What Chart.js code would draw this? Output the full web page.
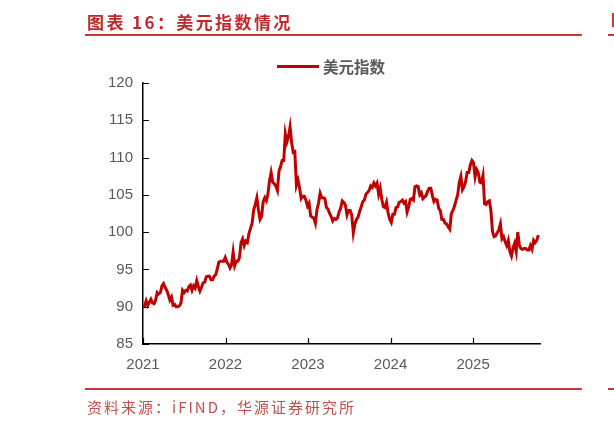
<!DOCTYPE html>
<html lang="zh">
<head>
  <meta charset="UTF-8">
  <title>美元指数情况</title>
  <script src="https://cdn.jsdelivr.net/npm/chart.js"></script>
  <style>
    body { margin: 0; width: 614px; height: 428px; background: #fff; position: relative; overflow: hidden; }
    #chartBox { position: absolute; left: 0; top: 0; width: 614px; height: 428px; }
    .title { position: absolute; left: 87px; top: 9px; color: #c0282d; font: bold 17px "Noto Sans CJK SC", sans-serif; letter-spacing: 2.4px; }
    .rule { position: absolute; height: 2px; background: #c8383c; }
    .source { position: absolute; left: 87px; top: 396px; color: #c0504d; font: 15px "Noto Sans CJK SC", serif; letter-spacing: 2px; }
    .legend { position: absolute; left: 277px; top: 55px; display: flex; align-items: center; font: bold 15.5px "Noto Sans CJK SC", sans-serif; color: #595959; }
    .legend span { display: inline-block; width: 42px; height: 3px; background: #c00000; margin-right: 4px; }
  </style>
</head>
<body>
  <div id="chartBox"><canvas id="dxyChart" width="614" height="428"></canvas></div>
  <div class="title">图表 16：美元指数情况</div>
  <div class="rule" style="left:85px; top:34px; width:497px;"></div>
  <div class="rule" style="left:608px; top:34px; width:6px;"></div>
  <div class="rule" style="left:612px; top:13px; width:2px; height:14px;"></div>
  <div class="legend"><span></span>美元指数</div>
  <div class="rule" style="left:85px; top:388px; width:497px;"></div>
  <div class="rule" style="left:608px; top:388px; width:6px;"></div>
  <div class="source">资料来源：iFIND，华源证券研究所</div>

  <script>
    // weekly readings of the dollar index, first week of 2021 onwards
    const startYear = 2021;
    const dxy2021 = [89.9, 90.1, 90.8, 90.2, 90.6, 91.0, 90.5, 90.4, 90.9, 91.9, 91.7, 91.9, 92.8, 93.1,
      92.6, 92.2, 91.6, 90.9, 91.3, 90.2, 90.3, 90.0, 90.0, 90.1, 90.5, 92.2, 91.9,
      92.2, 92.1, 92.7, 92.9, 92.2, 92.8, 92.5, 93.5, 92.7, 92.1, 92.6, 93.2, 93.3, 94.0,
      94.1, 94.1, 93.6, 93.6, 94.1, 94.3, 95.1, 96.0, 96.1, 96.1, 96.1, 96.6, 96.0];
    const dxy2022 = [95.7, 95.2, 95.6, 97.3, 95.5, 96.1, 96.1, 96.6, 98.6, 99.1, 98.2, 98.8,
      98.6, 99.8, 100.5, 101.2, 103.0, 103.7, 104.6, 103.0, 101.7, 102.1, 104.1, 104.6, 104.2, 105.1,
      106.9, 108.0, 106.7, 106.5, 106.2, 105.6, 108.2, 108.8, 109.6, 109.6, 113.2, 112.1,
      112.8, 114.1, 112.0, 110.7, 110.8, 106.3, 107.0, 106.0, 104.5, 104.8, 104.8, 104.3, 103.5, 103.9];
    const dxy2023 = [102.2, 102.0, 101.9, 101.2, 103.0, 103.9, 105.2, 104.6, 104.6, 104.5, 103.3, 103.1, 102.5,
      102.1, 101.5, 101.8, 101.7, 101.9, 102.7, 103.2, 104.2, 104.0, 103.6, 102.3, 102.9, 102.9,
      102.3, 99.9, 101.1, 101.7, 102.0, 102.8, 103.4, 104.1, 104.3, 105.1, 105.3, 105.6, 106.2,
      106.0, 106.6, 106.2, 106.6, 105.1, 105.9, 104.4, 103.4, 103.3, 104.0, 102.6, 101.7, 101.3];
    const dxy2024 = [102.4, 102.4, 103.3, 103.4, 104.0, 104.1, 104.3, 103.9, 104.1, 102.7, 103.4, 104.4, 104.5,
      104.3, 106.1, 106.2, 106.1, 105.0, 105.3, 104.5, 104.7, 104.9, 105.5, 105.9, 105.9,
      104.9, 104.1, 104.4, 104.3, 103.2, 102.9, 101.7, 101.7, 101.2, 101.1, 100.7, 100.4,
      102.5, 102.9, 103.5, 104.3, 105.0, 106.7, 107.5, 105.7, 106.1, 106.8, 108.0, 108.0];
    const dxy2025 = [109.0, 109.6, 109.3, 107.4, 108.4, 108.0, 106.7, 106.6, 107.6, 103.8, 103.7, 104.1, 104.2,
      102.9, 100.1, 99.4, 99.5, 99.9, 100.3, 101.1, 99.1, 99.4, 98.7, 98.2, 98.9, 97.4,
      96.8, 97.9, 98.5, 97.4, 100.0, 98.2, 97.8, 97.7, 97.8, 97.8, 97.6, 97.6, 98.2,
      97.7, 98.9, 98.6, 98.9, 99.6];
    const yearTicks = [2021, 2022, 2023, 2024, 2025];
    const yMin = 85, yMax = 120, yStep = 5;

    const dxyWeekly = [].concat(dxy2021, dxy2022, dxy2023, dxy2024, dxy2025);
    const points = dxyWeekly.map((v, i) => ({ x: startYear + i * 7 / 365.25, y: v }));
    const xEnd = points[points.length - 1].x + 0.02;

    // small tick marks pointing into the plot
    const innerTicks = {
      id: 'innerTicks',
      afterDraw(chart) {
        const ctx = chart.ctx;
        const xs = chart.scales.x, ys = chart.scales.y;
        ctx.save();
        ctx.strokeStyle = '#000';
        ctx.lineWidth = 1.2;
        ctx.beginPath();
        ys.ticks.forEach(t => {
          const y = Math.round(ys.getPixelForValue(t.value)) + 0.5;
          ctx.moveTo(xs.left, y);
          ctx.lineTo(xs.left + 6, y);
        });
        xs.ticks.forEach(t => {
          const x = Math.round(xs.getPixelForValue(t.value)) + 0.5;
          ctx.moveTo(x, ys.bottom);
          ctx.lineTo(x, ys.bottom - 6);
        });
        ctx.stroke();
        ctx.restore();
      }
    };

    new Chart(document.getElementById('dxyChart'), {
      type: 'line',
      data: {
        datasets: [{
          label: '美元指数',
          data: points,
          borderColor: '#c00000',
          borderWidth: 3,
          pointRadius: 0,
          tension: 0
        }]
      },
      options: {
        responsive: false,
        animation: false,
        devicePixelRatio: 1,
        layout: { padding: { left: 0, top: 83, right: 74, bottom: 0 } },
        plugins: { legend: { display: false }, tooltip: { enabled: false } },
        scales: {
          x: {
            type: 'linear',
            min: startYear,
            max: xEnd,
            afterBuildTicks: s => { s.ticks = yearTicks.map(v => ({ value: v })); },
            afterFit: s => { s.height = 84; },
            grid: { display: false, drawTicks: false },
            border: { display: true, color: '#000', width: 1.5 },
            ticks: { padding: 12, color: '#595959', font: { family: 'Arial, "Liberation Sans"', size: 15 }, callback: v => String(v) }
          },
          y: {
            min: yMin,
            max: yMax,
            afterFit: s => { s.width = 143; },
            grid: { display: false, drawTicks: false },
            border: { display: true, color: '#000', width: 1.5 },
            ticks: { stepSize: yStep, padding: 10, color: '#595959', font: { family: 'Arial, "Liberation Sans"', size: 15 } }
          }
        }
      },
      plugins: [innerTicks]
    });
  </script>
</body>
</html>
